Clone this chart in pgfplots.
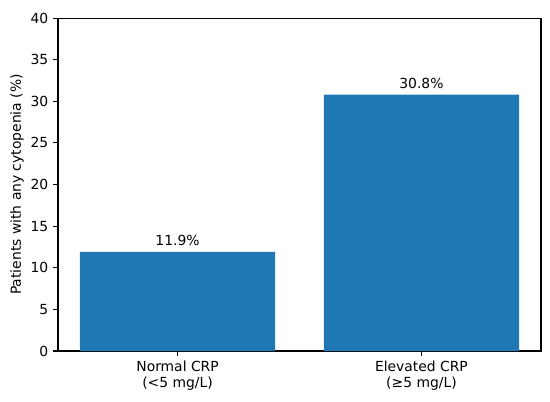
\documentclass[border=0pt]{standalone}
\usepackage{fontspec}
\setmainfont{DejaVu Sans}
\usepackage{pgfplots}
\pgfplotsset{compat=1.18}
\definecolor{tabblue}{HTML}{1F77B4}
\begin{document}
\begin{tikzpicture}
\useasboundingbox (-41.8pt,-36.7pt) rectangle (354.3pt,252.8pt);
\begin{axis}[
  at={(0,0)}, anchor=south west,
  scale only axis, width=347.8pt, height=239.8pt,
  xmin=-0.49, xmax=1.49, ymin=0, ymax=40,
  xtick={0,1},
  xticklabels={{Normal CRP\\(<5 mg/L)},{Elevated CRP\\(≥5 mg/L)}},
  xticklabel style={align=center, font=\fontsize{10}{11.5}\selectfont},
  ytick={0,5,...,40},
  yticklabel style={font=\fontsize{10}{12}\selectfont},
  /pgf/number format/assume math mode=true,
  ylabel={Patients with any cytopenia (\%)},
  ylabel style={font=\fontsize{10}{12}\selectfont},
  ylabel shift=-2pt,
  tick align=outside, xtick pos=bottom, ytick pos=left,
  major tick length=3.5pt,
  tick style={black, line width=0.8pt},
  axis line style={line width=0.8pt},
  ybar, bar width=0.8,
  point meta=explicit symbolic,
  nodes near coords,
  nodes near coords style={anchor=south, inner sep=0pt, yshift=4.3pt, font=\fontsize{10}{12}\selectfont, black},
]
\addplot[fill=tabblue, draw=none] coordinates {(0,11.9) [11.9\%] (1,30.8) [30.8\%]};
\end{axis}
\end{tikzpicture}
\end{document}
